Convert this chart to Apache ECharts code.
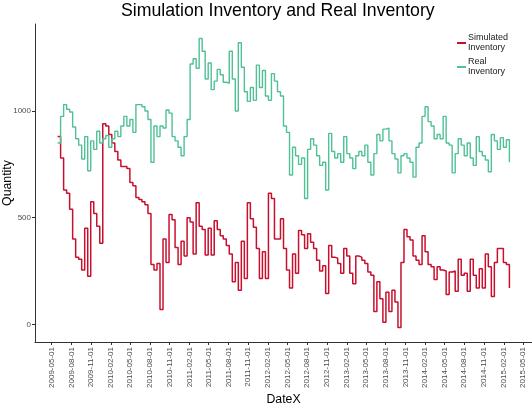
<!DOCTYPE html>
<html><head><meta charset="utf-8">
<script src="https://cdn.jsdelivr.net/npm/echarts@6/dist/echarts.min.js"></script>
<style>html,body{margin:0;padding:0;background:#fff}#c{width:532px;height:410px}</style>
</head><body><div id="c"></div>
<script>
const DATES = [
'2009-05-29','2009-06-12','2009-06-26','2009-07-10','2009-07-24','2009-08-07','2009-08-21','2009-09-04','2009-09-18','2009-10-02',
'2009-10-16','2009-10-30','2009-11-13','2009-11-27','2009-12-11','2009-12-25',
'2010-01-08','2010-01-22','2010-02-05','2010-02-19','2010-03-05','2010-03-19','2010-04-02','2010-04-16','2010-04-30','2010-05-14',
'2010-05-28','2010-06-11','2010-06-25','2010-07-09','2010-07-23','2010-08-06','2010-08-20','2010-09-03','2010-09-17','2010-10-01',
'2010-10-15','2010-10-29','2010-11-12','2010-11-26','2010-12-10','2010-12-24',
'2011-01-07','2011-01-21','2011-02-04','2011-02-18','2011-03-04','2011-03-18','2011-04-01','2011-04-15','2011-04-29','2011-05-13',
'2011-05-27','2011-06-10','2011-06-24','2011-07-08','2011-07-22','2011-08-05','2011-08-19','2011-09-02','2011-09-16','2011-09-30',
'2011-10-14','2011-10-28','2011-11-11','2011-11-25','2011-12-09','2011-12-23',
'2012-01-06','2012-01-20','2012-02-03','2012-02-17','2012-03-02','2012-03-16','2012-03-30','2012-04-13','2012-04-27','2012-05-11',
'2012-05-25','2012-06-08','2012-06-22','2012-07-06','2012-07-20','2012-08-03','2012-08-17','2012-08-31','2012-09-14','2012-09-28',
'2012-10-12','2012-10-26','2012-11-09','2012-11-23','2012-12-07','2012-12-21',
'2013-01-04','2013-01-18','2013-02-01','2013-02-15','2013-03-01','2013-03-15','2013-03-29','2013-04-12','2013-04-26','2013-05-10',
'2013-05-24','2013-06-07','2013-06-21','2013-07-05','2013-07-19','2013-08-02','2013-08-16','2013-08-30','2013-09-13','2013-09-27',
'2013-10-11','2013-10-25','2013-11-08','2013-11-22','2013-12-06','2013-12-20',
'2014-01-03','2014-01-17','2014-01-31','2014-02-14','2014-02-28','2014-03-14','2014-03-28','2014-04-11','2014-04-25','2014-05-09',
'2014-05-23','2014-06-06','2014-06-20','2014-07-04','2014-07-18','2014-08-01','2014-08-15','2014-08-29','2014-09-12','2014-09-26',
'2014-10-10','2014-10-24','2014-11-07','2014-11-21','2014-12-05','2014-12-19',
'2015-01-02','2015-01-16','2015-01-30','2015-02-13','2015-02-27'
];
const SIMULATED = [
880,780,630,615,540,400,315,305,255,450,
225,575,520,460,380,940,930,890,850,810,
770,740,740,730,665,650,595,585,575,560,
520,280,255,285,70,400,290,515,490,360,
280,390,320,500,480,330,570,460,445,325,
450,325,485,445,415,400,370,330,200,290,
160,390,215,570,495,455,355,215,340,215,
615,590,400,400,495,355,255,170,330,240,
440,420,355,425,385,355,300,250,275,145,
370,315,310,285,240,355,320,240,190,320,
315,300,285,245,230,60,200,120,10,150,
60,160,105,-15,290,445,410,395,320,300,
280,415,340,280,270,210,270,255,250,140,
245,250,155,305,230,240,155,305,230,170,
260,170,330,270,130,290,355,355,290,280,
170
];
const REAL = [
850,975,1030,1008,995,925,870,840,775,880,
720,860,820,905,850,870,885,830,870,905,
880,930,975,930,960,900,1030,1030,1020,1000,
960,760,930,880,930,920,1005,990,880,860,
830,790,880,960,1220,1245,1200,1340,1280,1150,
1225,1100,1140,1195,1170,1135,1130,1280,1150,1000,
1320,1205,1090,1045,1110,1050,1215,1110,1190,1070,
1050,1175,1140,1090,1070,930,900,700,830,790,
750,780,590,820,870,840,790,745,760,630,
895,810,780,800,760,880,800,780,730,790,
810,790,840,760,700,800,890,860,915,920,
860,800,775,710,790,800,780,760,690,830,
850,975,1020,950,930,870,890,870,975,850,
840,710,800,870,840,790,850,780,745,880,
810,790,770,715,890,860,820,875,830,865,
760
];
const X_TICKS = ['2009-05-01','2009-08-01','2009-11-01','2010-02-01','2010-05-01','2010-08-01','2010-11-01',
'2011-02-01','2011-05-01','2011-08-01','2011-11-01','2012-02-01','2012-05-01','2012-08-01','2012-11-01',
'2013-02-01','2013-05-01','2013-08-01','2013-11-01','2014-02-01','2014-05-01','2014-08-01','2014-11-01',
'2015-02-01','2015-05-01'];
const Y_TICKS = [0, 500, 1000];
const NAMES = ['Simulated\nInventory', 'Real\nInventory'];
const COLORS = ['#C8102E', '#4FC195'];

function ts(s){const p=s.split('-');return Date.UTC(+p[0],+p[1]-1,+p[2]);}
function fmt(v){const d=new Date(v);const m=d.getUTCMonth()+1,dd=d.getUTCDate();
  return d.getUTCFullYear()+'-'+(m<10?'0':'')+m+'-'+(dd<10?'0':'')+dd;}

const xs = DATES.map(ts);
const xLo = xs[0], xHi = xs[xs.length-1], xPad = (xHi-xLo)*0.05;
const allY = SIMULATED.concat(REAL);
const yLo = Math.min.apply(null, allY), yHi = Math.max.apply(null, allY), yPad = (yHi-yLo)*0.05;
const FONT = 'Liberation Sans, Arial, sans-serif';

const chart = echarts.init(document.getElementById('c'), null, {renderer:'canvas'});
chart.setOption({
  backgroundColor: '#ffffff',
  animation: false,
  title: {
    text: 'Simulation Inventory and Real Inventory',
    left: 121, top: 2, padding: 0,
    textStyle: {fontFamily: FONT, fontSize: 17.7, fontWeight: 'normal', color: '#000'}
  },
  legend: {
    orient: 'vertical', left: 457, top: 33, padding: 0,
    itemWidth: 9, itemHeight: 2, itemGap: 4, icon: 'rect',
    textStyle: {fontFamily: FONT, fontSize: 9, lineHeight: 10, color: '#1a1a1a', padding: [0,0,0,-3]},
    data: NAMES
  },
  grid: {left: 35, right: 0, top: 24, bottom: 68, containLabel: false, outerBoundsMode: 'none'},
  xAxis: {
    type: 'value', min: xLo - xPad, max: xHi + xPad,
    name: 'DateX', nameLocation: 'middle', nameGap: 52, nameMoveOverlap: false,
    nameTextStyle: {fontFamily: FONT, fontSize: 12.3, color: '#000'},
    axisLine: {show: true, onZero: false, lineStyle: {color: '#333', width: 1}},
    axisTick: {show: true, length: 3, lineStyle: {color: '#333'}, customValues: X_TICKS.map(ts)},
    axisLabel: {rotate: 90, margin: 5, fontFamily: FONT, fontSize: 8, color: '#4d4d4d',
      customValues: X_TICKS.map(ts), formatter: v => fmt(v)},
    splitLine: {show: false}
  },
  yAxis: {
    type: 'value', min: yLo - yPad, max: yHi + yPad,
    name: 'Quantity', nameLocation: 'middle', nameGap: 21, nameRotate: 90, nameMoveOverlap: false,
    nameTextStyle: {fontFamily: FONT, fontSize: 12.3, color: '#000'},
    axisLine: {show: true, onZero: false, lineStyle: {color: '#333', width: 1}},
    axisTick: {show: true, length: 3, lineStyle: {color: '#333'}, customValues: Y_TICKS},
    axisLabel: {margin: 4, fontFamily: FONT, fontSize: 8, color: '#4d4d4d', customValues: Y_TICKS,
      formatter: v => String(v)},
    splitLine: {show: false}
  },
  series: [
    {name: NAMES[0], type: 'line', step: 'end', showSymbol: false, symbol: 'none',
     data: xs.map((x,i) => [x, SIMULATED[i]]), lineStyle: {color: COLORS[0], width: 1.5},
     itemStyle: {color: COLORS[0]}},
    {name: NAMES[1], type: 'line', step: 'end', showSymbol: false, symbol: 'none',
     data: xs.map((x,i) => [x, REAL[i]]), lineStyle: {color: COLORS[1], width: 1.4},
     itemStyle: {color: COLORS[1]}}
  ]
});
</script></body></html>
